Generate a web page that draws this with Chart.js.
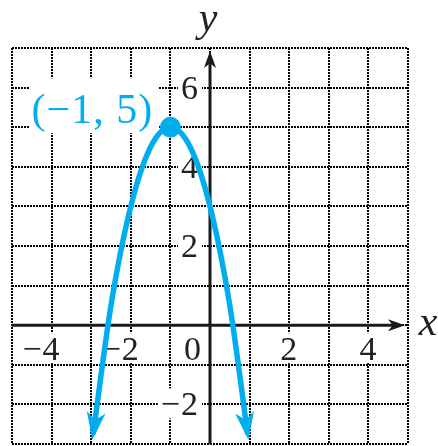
<!DOCTYPE html>
<html>
<head>
<meta charset="utf-8">
<script src="https://cdn.jsdelivr.net/npm/chart.js@4/dist/chart.umd.min.js"></script>
<style>
  html, body { margin: 0; padding: 0; background: #fff; }
  canvas { display: block; }
</style>
</head>
<body>
<canvas id="graph" width="438" height="446"></canvas>
<script>
// points
var curveX = [-2.95, -2.5, -2, -1.5, -1, -0.5, 0, 0.5, 0.95];
var curveY = [-2.75, 0.5, 3, 4.5, 5, 4.5, 3, 0.5, -2.75];
var vertex = [-1, 5];
var vertexLabel = "(\u22121, 5)";
var xTickLabels = [-4, -2, 0, 2, 4];
var yTickLabels = [6, 4, 2, -2];
var xRange = [-5, 5];
var yRange = [-3, 7];

var blue = "#00aeef";
var numFont = '34px "Liberation Serif"';

function fmt(v) { return v < 0 ? "\u2212" + Math.abs(v) : String(v); }

function arrowHead(ctx, tx, ty, dx, dy, len, half, color) {
    var m = Math.hypot(dx, dy); dx /= m; dy /= m;
    var nx = -dy, ny = dx;
    ctx.save();
    ctx.fillStyle = color;
    ctx.beginPath();
    ctx.moveTo(tx, ty);
    ctx.lineTo(tx - dx * len + nx * half, ty - dy * len + ny * half);
    ctx.lineTo(tx - dx * len * 0.72, ty - dy * len * 0.72);
    ctx.lineTo(tx - dx * len - nx * half, ty - dy * len - ny * half);
    ctx.closePath();
    ctx.fill();
    ctx.restore();
}

// text on a white patch, alphabetic baseline
function boxText(ctx, text, x, y, align) {
    ctx.textAlign = align;
    var w = ctx.measureText(text).width;
    var left = align === "right" ? x - w : (align === "center" ? x - w / 2 : x);
    ctx.fillStyle = "#fff";
    ctx.fillRect(left - 3, y - 27, w + 6, 30);
    ctx.fillStyle = "#222";
    ctx.fillText(text, x, y);
}

var labelsPlugin = {
    id: "mathLabels",
    beforeDatasetsDraw: function (chart) {
        var ctx = chart.ctx, xs = chart.scales.x, ys = chart.scales.y;
        var x0 = xs.getPixelForValue(0), y0 = ys.getPixelForValue(0);
        ctx.save();
        ctx.font = numFont;
        ctx.letterSpacing = "1px";
        ctx.textBaseline = "alphabetic";
        var digitW = ctx.measureText("0").width;
        xTickLabels.forEach(function (v) {
            var px = xs.getPixelForValue(v);
            var rx = v === 0 ? px - 8 : px + digitW / 2;
            boxText(ctx, fmt(v), rx, y0 + 35, "right");
        });
        yTickLabels.forEach(function (v) {
            boxText(ctx, fmt(v), x0 - 11, ys.getPixelForValue(v) + 11, "right");
        });
        // vertex label
        ctx.font = '42px "Liberation Serif"';
        var vx = xs.getPixelForValue(vertex[0]), vy = ys.getPixelForValue(vertex[1]);
        ctx.fillStyle = "#fff";
        ctx.fillRect(vx - 141, vy - 49, 129, 55);
        ctx.fillStyle = blue;
        ctx.textAlign = "center";
        ctx.fillText(vertexLabel, vx - 78, vy - 4);
        ctx.letterSpacing = "0px";

        // axes
        ctx.strokeStyle = "#1a1a1a";
        ctx.lineWidth = 3;
        ctx.beginPath();
        ctx.moveTo(xs.left, y0);
        ctx.lineTo(xs.right - 10, y0);
        ctx.moveTo(x0, ys.bottom);
        ctx.lineTo(x0, ys.top + 12);
        ctx.stroke();
        arrowHead(ctx, xs.right - 3, y0, 1, 0, 17, 6, "#1a1a1a");
        arrowHead(ctx, x0, ys.top + 3, 0, -1, 17, 6, "#1a1a1a");

        // axis names
        ctx.fillStyle = "#222";
        ctx.font = 'italic 42px "Liberation Serif"';
        ctx.textAlign = "center";
        ctx.fillText("y", x0 - 2, ys.top - 17);
        ctx.fillText("x", xs.right + 20, y0 + 10);
        ctx.restore();
    },
    afterDatasetsDraw: function (chart) {
        var pts = chart.getDatasetMeta(0).data;
        var first = pts[0], last = pts[pts.length - 1];
        var ctx = chart.ctx;
        var d1x = first.x - (first.cp2x !== undefined ? first.cp2x : pts[1].x);
        var d1y = first.y - (first.cp2y !== undefined ? first.cp2y : pts[1].y);
        var d2x = last.x - (last.cp1x !== undefined ? last.cp1x : pts[pts.length - 2].x);
        var d2y = last.y - (last.cp1y !== undefined ? last.cp1y : pts[pts.length - 2].y);
        var m1 = Math.hypot(d1x, d1y), m2 = Math.hypot(d2x, d2y);
        arrowHead(ctx, first.x + d1x / m1 * 6, first.y + d1y / m1 * 6, d1x, d1y, 28, 9.5, blue);
        arrowHead(ctx, last.x + d2x / m2 * 6, last.y + d2y / m2 * 6, d2x, d2y, 28, 9.5, blue);
    }
};

function gridScale(range) {
    return {
        type: "linear", min: range[0], max: range[1],
        ticks: { display: false, stepSize: 1 },
        grid: { color: "#000", lineWidth: 2, drawTicks: false },
        border: { display: false, dash: [2, 1] },
        afterFit: function (s) {
            if (s.isHorizontal()) s.height = 0; else s.width = 0;
        }
    };
}

var ctx = document.getElementById("graph").getContext("2d");
var graph = new Chart(ctx, {
    type: "scatter",
    data: {
        datasets: [{
            data: curveX.map(function (x, i) { return { x: x, y: curveY[i] }; }),
            showLine: true,
            borderColor: blue,
            borderWidth: 5.5,
            pointRadius: 0,
            cubicInterpolationMode: "monotone"
        }, {
            data: [{ x: vertex[0], y: vertex[1] }],
            backgroundColor: blue,
            borderColor: blue,
            pointRadius: 10
        }]
    },
    options: {
        responsive: false,
        animation: false,
        layout: { autoPadding: false, padding: { left: 12, right: 30, top: 48, bottom: 2 } },
        plugins: { legend: { display: false }, tooltip: { enabled: false } },
        scales: {
            x: gridScale(xRange),
            y: gridScale(yRange)
        }
    },
    plugins: [labelsPlugin]
});
</script>
</body>
</html>
